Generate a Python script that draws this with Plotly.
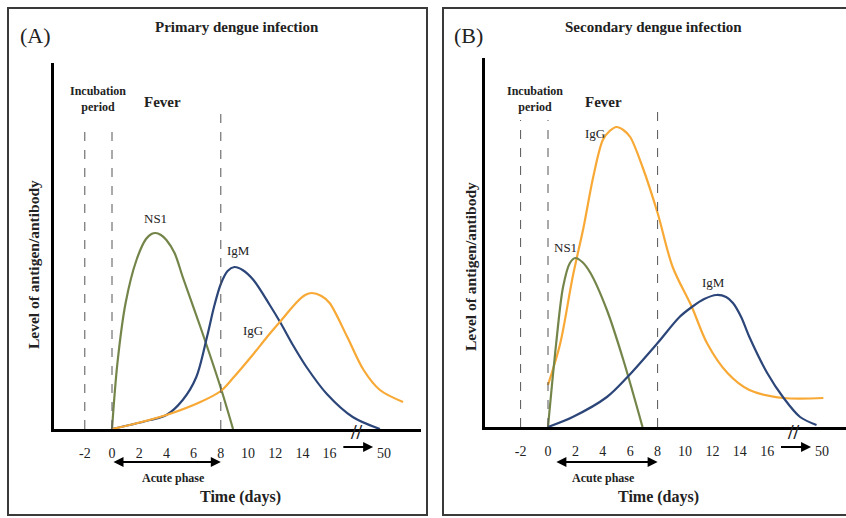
import plotly.graph_objects as go

# ---------------- data (days, relative level) ----------------
tick_vals = [-2, 0, 2, 4, 6, 8, 10, 12, 14, 16, 20]
tick_text = ["-2", "0", "2", "4", "6", "8", "10", "12", "14", "16", "50"]

# Panel A: primary infection
a_ns1_x = [0, 0.4, 1.0, 1.8, 2.5, 2.9, 3.2, 3.6, 4.0, 4.6, 5.2, 6.5, 8.0, 8.9]
a_ns1_y = [0, 66, 126, 169, 190, 195, 196, 194, 189, 176, 152, 102, 41, 0]
a_igm_x = [0, 2.8, 4.0, 5.2, 6.2, 7.0, 7.5, 8.0, 8.5, 9.0, 9.6, 10.4, 11.6, 12.4, 13.3, 14.3, 15.8, 17.7, 19.7]
a_igm_y = [0, 9, 14, 29, 52, 93, 122, 145, 158, 162, 159, 149, 124, 106, 84, 62, 35, 12, 0]
a_igg_x = [0, 1.6, 4.0, 6.5, 8.0, 8.9, 10.4, 11.4, 12.4, 13.6, 14.2, 14.7, 15.4, 16.0, 17.3, 18.5, 19.7, 21.4]
a_igg_y = [0, 5, 14, 27, 38, 51, 75, 92, 108, 127, 134, 136, 133, 126, 92, 59, 39, 27]

# Panel B: secondary infection
b_ns1_x = [0, 0.6, 1.1, 1.6, 2.0, 2.5, 3.1, 4.3, 5.5, 6.9]
b_ns1_y = [0, 84, 140, 164, 169, 165, 154, 117, 67, 0]
b_igg_x = [0, 0.9, 1.8, 2.6, 3.3, 4.0, 4.5, 5.0, 5.5, 6.0, 6.9, 8.0, 9.1, 10.5, 11.6, 13.1, 14.7, 17.2, 20.1]
b_igg_y = [42, 84, 150, 200, 250, 287, 296, 300, 297, 290, 260, 214, 160, 120, 84, 54, 37, 29, 29]
b_igm_x = [0, 1.8, 4.3, 5.8, 8.0, 9.6, 10.5, 11.4, 12.3, 13.0, 13.5, 14.1, 14.7, 16.0, 17.2, 18.4, 19.6]
b_igm_y = [0, 10, 30, 50, 84, 110, 120, 128, 132, 130, 124, 110, 90, 54, 29, 10, 2]

# ---------------- styling ----------------
W, H = 846, 518
GREEN = "#74854a"
BLUE = "#2c4679"
ORANGE = "#f8a935"
SERIF = "Liberation Serif, Times New Roman, serif"


def px(x):
    return x / W


def py(y):
    return 1 - y / H


fig = go.Figure()

def add_line(x, y, color, xa, ya):
    fig.add_trace(go.Scatter(x=x, y=y, mode="lines", xaxis=xa, yaxis=ya,
                             line=dict(color=color, width=2.2, shape="spline", smoothing=0.9),
                             hoverinfo="skip", showlegend=False))

add_line(a_ns1_x, a_ns1_y, GREEN, "x", "y")
add_line(a_igm_x, a_igm_y, BLUE, "x", "y")
add_line(a_igg_x, a_igg_y, ORANGE, "x", "y")
add_line(b_igg_x, b_igg_y, ORANGE, "x2", "y2")
add_line(b_ns1_x, b_ns1_y, GREEN, "x2", "y2")
add_line(b_igm_x, b_igm_y, BLUE, "x2", "y2")

xcommon = dict(tickmode="array", tickvals=tick_vals, ticktext=tick_text,
               showgrid=False, zeroline=False, showline=True, linecolor="black",
               linewidth=3, ticks="outside", ticklen=9, tickcolor="rgba(0,0,0,0)",
               tickfont=dict(family=SERIF, size=14, color="#222"))
ycommon = dict(showgrid=False, zeroline=False, showline=True, linecolor="black",
               linewidth=3, showticklabels=False, ticks="")

fig.update_layout(
    width=W, height=H, margin=dict(l=0, r=0, t=0, b=0),
    paper_bgcolor="white", plot_bgcolor="white", showlegend=False,
    xaxis=dict(domain=[px(54), px(421)], range=[(54 - 112) / 13.6, (421 - 112) / 13.6], anchor="y", **xcommon),
    yaxis=dict(domain=[py(429), py(63)], range=[0, 366], anchor="x", **ycommon),
    xaxis2=dict(domain=[px(485), 1.0], range=[(485 - 548) / 13.7, (846 - 548) / 13.7], anchor="y2", **xcommon),
    yaxis2=dict(domain=[py(427), py(58)], range=[0, 369], anchor="x2", **ycommon),
)

shapes = []
# panel borders
shapes.append(dict(type="rect", xref="paper", yref="paper", x0=px(8), x1=px(427), y0=py(515), y1=py(8),
                   line=dict(color="#3a3a3a", width=2)))
shapes.append(dict(type="rect", xref="paper", yref="paper", x0=px(443), x1=1.02, y0=py(515), y1=py(8),
                   line=dict(color="#3a3a3a", width=2)))
# dashed period lines
for xa, ya, tops in (("x", "y", [(-2, 304), (0, 304), (8, 322)]), ("x2", "y2", [(-2, 307), (0, 307), (8, 317)])):
    for xv, top in tops:
        shapes.append(dict(type="line", xref=xa, yref=ya, x0=xv, x1=xv, y0=0, y1=top,
                           line=dict(color="#555", width=1, dash="dash")))
fig.update_layout(shapes=shapes)

ann = []

def text(x, y, s, size, bold=False, xref="paper", yref="paper", angle=0, color="#222"):
    ann.append(dict(x=x, y=y, xref=xref, yref=yref, text=f"<b>{s}</b>" if bold else s,
                    showarrow=False, textangle=angle, xanchor="center", yanchor="middle",
                    font=dict(family=SERIF, size=size, color=color)))

# panel A texts
text(px(35), py(36), "(A)", 22)
text(px(237), py(27), "Primary dengue infection", 15, bold=True)
text(px(98), py(99), "Incubation<br>period", 12, bold=True)
text(px(162), py(102), "Fever", 15, bold=True)
text(px(173), py(478), "Acute phase", 12, bold=True)
text(px(240), py(497), "Time (days)", 16, bold=True)
text(px(33), py(265), "Level of antigen/antibody", 15.5, bold=True, angle=-90)
text(3.2, 211, "NS1", 13, xref="x", yref="y")
text(9.3, 179, "IgM", 13, xref="x", yref="y")
text(10.4, 99, "IgG", 13, xref="x", yref="y")

# panel B texts
text(px(468), py(36), "(B)", 22)
text(px(653), py(27), "Secondary dengue infection", 15, bold=True)
text(px(535), py(99), "Incubation<br>period", 12, bold=True)
text(px(603), py(102), "Fever", 15, bold=True)
text(px(603), py(478), "Acute phase", 12, bold=True)
text(px(658), py(497), "Time (days)", 16, bold=True)
text(px(470), py(267), "Level of antigen/antibody", 15.5, bold=True, angle=-90)
text(1.25, 180, "NS1", 13, xref="x2", yref="y2")
text(3.4, 294, "IgG", 13, xref="x2", yref="y2")
text(12.1, 145, "IgM", 13, xref="x2", yref="y2")

# arrows
def arrow(xa, x_head, x_tail, ypix, both):
    ann.append(dict(x=x_head, y=py(ypix), xref=xa, yref="paper", ax=x_tail, axref=xa, ay=0, ayref="pixel",
                    text="", showarrow=True, arrowhead=2, arrowsize=1, arrowwidth=2, arrowcolor="black",
                    startarrowhead=2, startarrowsize=1,
                    arrowside="end+start" if both else "end"))

arrow("x", 8, 0, 462, True)
arrow("x2", 8, 0.5, 462, True)
arrow("x", 19.2, 16.9, 447, False)
arrow("x2", 19.2, 16.9, 447, False)
# axis break marks
for xa, xv in (("x", 18.0), ("x2", 17.9)):
    ann.append(dict(x=xv, y=py(432), xref=xa, yref="paper", text="<b>//</b>", showarrow=False,
                    font=dict(family=SERIF, size=20, color="#222"), xanchor="center", yanchor="middle"))

fig.update_layout(annotations=ann)
fig.write_html("out.html", config={"displayModeBar": False},
               post_script="document.body.style.margin='0';document.body.style.overflow='hidden';")
